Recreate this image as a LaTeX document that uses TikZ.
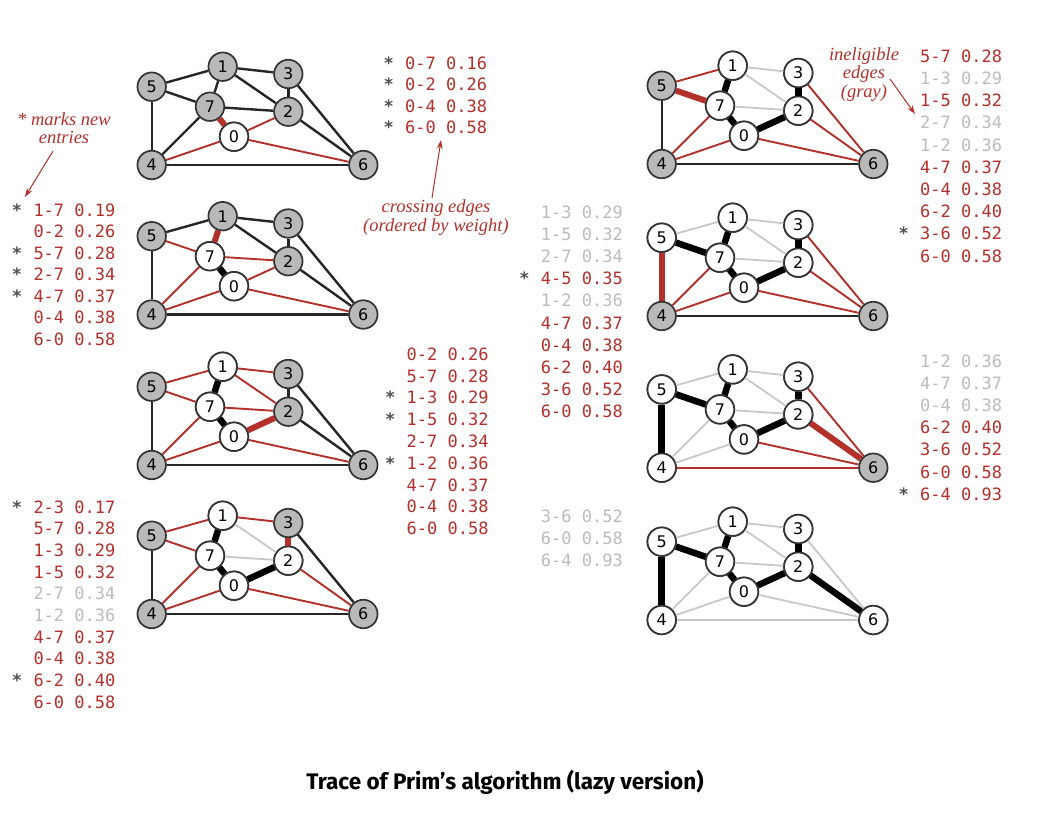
\documentclass[tikz,border=0pt]{standalone}
\usepackage{fontspec}
\newfontfamily\monof{DejaVu Sans Mono}
\newfontfamily\nodef{DejaVu Sans}
\newfontfamily\titlef{Fira Sans}
\newfontfamily\annf{Liberation Serif}
\usetikzlibrary{arrows.meta}
\definecolor{redc}{RGB}{180,48,42}
\definecolor{grayt}{RGB}{188,188,188}
\definecolor{nodegray}{RGB}{185,185,185}
\definecolor{edgegray}{RGB}{200,200,200}
\definecolor{starc}{RGB}{80,80,80}
\tikzset{
  vtx/.style={circle, draw=black!80, line width=1.7pt, minimum size=28.5pt, inner sep=0pt, font=\nodef\fontsize{16}{16}\selectfont},
  vg/.style={vtx, fill=nodegray},
  vw/.style={vtx, fill=white},
  eblk/.style={draw=black!85, line width=2.4pt},
  ered/.style={draw=redc, line width=1.9pt},
  eRed/.style={draw=redc, line width=6pt},
  eMst/.style={draw=black, line width=6.5pt},
  egry/.style={draw=edgegray, line width=1.8pt},
  lst/.style={inner sep=0pt, font=\monof\fontsize{17}{17}\selectfont},
  ann/.style={text=redc, align=center, inner sep=0pt, font=\annf\itshape\fontsize{18.5}{18.5}\selectfont},
  annarrow/.style={draw=redc, line width=1pt, -{Stealth[length=9pt,width=6pt]}}
}
\newcommand\gpanel[4]{%
  \foreach \n/\dx/\dy in {0/82.3/-28.3,1/71/-98.3,2/136.6/-53.3,3/136.6/-91,4/0/0,5/0/-78.3,6/211.6/0,7/58.3/-58.3}
    \node[vg] (#1\n) at (#2+\dx, #3+\dy) {\n};
  \foreach \n in {#4}
    \node[vw] (#1\n) at (#1\n) {\n};
}
\newcommand\gedges[2]{\foreach \a/\b/\s in {#2} \draw[\s] (#1\a) -- (#1\b);}
\newcommand\elist[5]{%
  \foreach \c/\s/\t [count=\i] in {#5}{%
    \node[lst, text=\c, anchor=base west] (#1r\i) at (#2, #3+6.3+#4*\i-#4) {\t};
    \if\s y\node[lst, text=starc, font=\monof\bfseries\fontsize{17}{17}\selectfont, anchor=base east, xshift=-11pt] (#1s\i) at (#1r\i.base west) {*};\fi
  }}
\begin{document}
\begin{tikzpicture}[x=1pt, y=-1pt]
\path[use as bounding box, fill=white] (0,0) rectangle (1042,820);

% ---------- panel 1 ----------
\gpanel{pa}{151.7}{165}{0}
\gedges{pa}{0/7/eRed, 0/2/ered, 0/4/ered, 0/6/ered, 1/5/eblk, 1/3/eblk, 1/7/eblk, 1/2/eblk, 5/7/eblk, 5/4/eblk, 7/2/eblk, 7/4/eblk, 3/2/eblk, 3/6/eblk, 2/6/eblk, 4/6/eblk}
% ---------- panel 2 ----------
\gpanel{pb}{151.7}{314.5}{0,7}
\gedges{pb}{0/7/eMst, 1/7/eRed, 5/7/ered, 7/2/ered, 7/4/ered, 0/2/ered, 0/4/ered, 0/6/ered, 1/5/eblk, 1/3/eblk, 1/2/eblk, 3/2/eblk, 3/6/eblk, 2/6/eblk, 5/4/eblk, 4/6/eblk}
% ---------- panel 3 ----------
\gpanel{pc}{151.7}{465}{0,7,1}
\gedges{pc}{0/7/eMst, 1/7/eMst, 0/2/eRed, 1/5/ered, 1/3/ered, 1/2/ered, 5/7/ered, 7/2/ered, 7/4/ered, 0/4/ered, 0/6/ered, 3/2/eblk, 3/6/eblk, 2/6/eblk, 5/4/eblk, 4/6/eblk}
% ---------- panel 4 ----------
\gpanel{pd}{151.7}{614}{0,7,1,2}
\gedges{pd}{0/7/eMst, 1/7/eMst, 0/2/eMst, 2/3/eRed, 1/2/egry, 7/2/egry, 1/5/ered, 1/3/ered, 5/7/ered, 7/4/ered, 0/4/ered, 0/6/ered, 2/6/ered, 3/6/eblk, 5/4/eblk, 4/6/eblk}
% ---------- panel 5 ----------
\gpanel{pe}{661.7}{164}{0,7,1,2,3}
\gedges{pe}{0/7/eMst, 1/7/eMst, 0/2/eMst, 2/3/eMst, 5/7/eRed, 1/3/egry, 1/2/egry, 7/2/egry, 1/5/ered, 7/4/ered, 0/4/ered, 0/6/ered, 2/6/ered, 3/6/ered, 5/4/eblk, 4/6/eblk}
% ---------- panel 6 ----------
\gpanel{pf}{661.7}{316}{0,7,1,2,3,5}
\gedges{pf}{0/7/eMst, 1/7/eMst, 0/2/eMst, 2/3/eMst, 5/7/eMst, 4/5/eRed, 1/5/egry, 1/3/egry, 1/2/egry, 7/2/egry, 7/4/ered, 0/4/ered, 0/6/ered, 2/6/ered, 3/6/ered, 4/6/eblk}
% ---------- panel 7 ----------
\gpanel{pg}{661.7}{467.7}{0,1,2,3,4,5,7}
\gedges{pg}{0/7/eMst, 1/7/eMst, 0/2/eMst, 2/3/eMst, 5/7/eMst, 4/5/eMst, 2/6/eRed, 1/5/egry, 1/3/egry, 1/2/egry, 7/2/egry, 7/4/egry, 0/4/egry, 0/6/ered, 3/6/ered, 4/6/ered}
% ---------- panel 8 ----------
\gpanel{ph}{661.7}{620}{0,1,2,3,4,5,6,7}
\gedges{ph}{0/7/eMst, 1/7/eMst, 0/2/eMst, 2/3/eMst, 5/7/eMst, 4/5/eMst, 2/6/eMst, 1/5/egry, 1/3/egry, 1/2/egry, 7/2/egry, 7/4/egry, 0/4/egry, 0/6/egry, 3/6/egry, 4/6/egry}

% ---------- edge lists ----------
\elist{la}{405}{62.7}{21.5}{redc/y/0-7 0.16, redc/y/0-2 0.26, redc/y/0-4 0.38, redc/y/6-0 0.58}
\elist{lb}{33.3}{210}{21.45}{redc/y/1-7 0.19, redc/n/0-2 0.26, redc/y/5-7 0.28, redc/y/2-7 0.34, redc/y/4-7 0.37, redc/n/0-4 0.38, redc/n/6-0 0.58}
\elist{lc}{406.5}{354}{21.8}{redc/n/0-2 0.26, redc/n/5-7 0.28, redc/y/1-3 0.29, redc/y/1-5 0.32, redc/n/2-7 0.34, redc/y/1-2 0.36, redc/n/4-7 0.37, redc/n/0-4 0.38, redc/n/6-0 0.58}
\elist{ld}{33.3}{506.7}{21.7}{redc/y/2-3 0.17, redc/n/5-7 0.28, redc/n/1-3 0.29, redc/n/1-5 0.32, grayt/n/2-7 0.34, grayt/n/1-2 0.36, redc/n/4-7 0.37, redc/n/0-4 0.38, redc/y/6-2 0.40, redc/n/6-0 0.58}
\elist{le}{920}{56}{22.2}{redc/n/5-7 0.28, grayt/n/1-3 0.29, redc/n/1-5 0.32, grayt/n/2-7 0.34, grayt/n/1-2 0.36, redc/n/4-7 0.37, redc/n/0-4 0.38, redc/n/6-2 0.40, redc/y/3-6 0.52, redc/n/6-0 0.58}
\elist{lf}{540.7}{211.7}{22.2}{grayt/n/1-3 0.29, grayt/n/1-5 0.32, grayt/n/2-7 0.34, redc/y/4-5 0.35, grayt/n/1-2 0.36, redc/n/4-7 0.37, redc/n/0-4 0.38, redc/n/6-2 0.40, redc/n/3-6 0.52, redc/n/6-0 0.58}
\elist{lg}{920}{360.7}{22.2}{grayt/n/1-2 0.36, grayt/n/4-7 0.37, grayt/n/0-4 0.38, redc/n/6-2 0.40, redc/n/3-6 0.52, redc/n/6-0 0.58, redc/y/6-4 0.93}
\elist{lh}{540.7}{516}{22.2}{grayt/n/3-6 0.52, grayt/n/6-0 0.58, grayt/n/6-4 0.93}

% ---------- annotations ----------
\node[ann] (annA) at (64,128) {* marks new\\entries};
\coordinate (annAs) at (53,151);
\coordinate (annAe) at (25,197);
\draw[annarrow] (annAs) -- (annAe);

\node[ann] (annB) at (436,217.5) {crossing edges\\(ordered by weight)};
\coordinate (annBs) at (432,198);
\coordinate (annBe) at (441,140);
\draw[annarrow] (annBs) -- (annBe);

\node[ann] (annC) at (864,74.5) {ineligible\\edges\\(gray)};
\coordinate (annCs) at (890,79);
\coordinate (annCe) at (915,114);
\draw[annarrow] (annCs) -- (annCe);

% ---------- title ----------
\node[inner sep=0pt, font=\titlef\bfseries\fontsize{22.5}{22.5}\selectfont] (title) at (505,782) {Trace of Prim’s algorithm (lazy version)};
\end{tikzpicture}
\end{document}
